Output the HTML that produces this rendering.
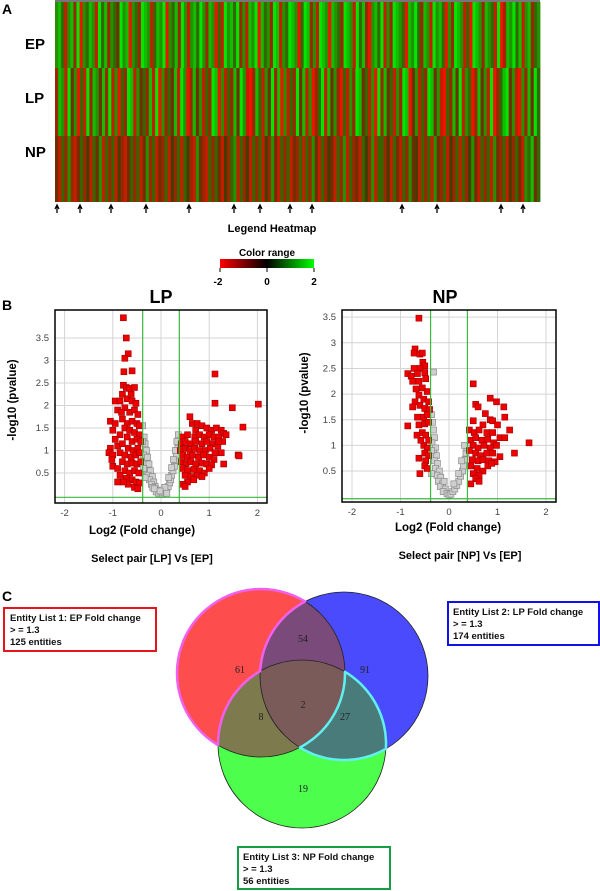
<!DOCTYPE html>
<html><head><meta charset="utf-8">
<style>
html,body{margin:0;padding:0;background:#fff;}
body{width:600px;height:891px;overflow:hidden;position:relative;font-family:"Liberation Sans",sans-serif;}
svg{position:absolute;left:0;top:0;}
</style></head>
<body>
<svg id="fig" width="600" height="891" viewBox="0 0 600 891" xmlns="http://www.w3.org/2000/svg">
  <g id="heat"></g>
  <g id="lpv"></g>
  <g id="npv"></g>
  <g id="venn"></g>
  <g font-family="Liberation Sans, sans-serif" font-weight="bold" fill="#000">
    <text x="2" y="14" font-size="14">A</text>
    <text x="25" y="49" font-size="15">EP</text>
    <text x="25" y="103" font-size="15">LP</text>
    <text x="25" y="157" font-size="15">NP</text>
    <text x="272" y="232" font-size="11" text-anchor="middle">Legend Heatmap</text>
    <text x="267" y="256" font-size="10" text-anchor="middle">Color range</text>
    <text x="218" y="285" font-size="10" text-anchor="middle">-2</text>
    <text x="267" y="285" font-size="10" text-anchor="middle">0</text>
    <text x="314" y="285" font-size="10" text-anchor="middle">2</text>
    <text x="2" y="310" font-size="14">B</text>
    <text x="161" y="303" font-size="18" text-anchor="middle">LP</text>
    <text x="445" y="303" font-size="18" text-anchor="middle">NP</text>
    <text x="142" y="534" font-size="11.5" text-anchor="middle">Log2 (Fold change)</text>
    <text x="448" y="531" font-size="11.5" text-anchor="middle">Log2 (Fold change)</text>
    <text x="152" y="562" font-size="11" text-anchor="middle">Select pair [LP] Vs [EP]</text>
    <text x="460" y="559" font-size="11" text-anchor="middle">Select pair [NP] Vs [EP]</text>
    <text transform="translate(16,400) rotate(-90)" font-size="11.5" text-anchor="middle">-log10 (pvalue)</text>
    <text transform="translate(308,393) rotate(-90)" font-size="11.5" text-anchor="middle">-log10 (pvalue)</text>
    <text x="2" y="601" font-size="14">C</text>
  </g>
  <defs>
    <linearGradient id="cr" x1="0" x2="1" y1="0" y2="0">
      <stop offset="0" stop-color="#ff0000"/><stop offset="0.5" stop-color="#000"/><stop offset="1" stop-color="#00ff00"/>
    </linearGradient>
  </defs>
  <rect x="220" y="259" width="94" height="9" fill="url(#cr)"/>
  <path d="M220 268v4M267 268v4M314 268v4" stroke="#000" stroke-width="1"/>
  <g font-family="Liberation Sans, sans-serif" font-weight="bold" font-size="9.5" fill="#111">
    <rect x="4" y="608" width="152" height="43" fill="#fff" stroke="#e8141c" stroke-width="2"/>
    <text x="10" y="621">Entity List 1: EP Fold change</text>
    <text x="10" y="633">&gt; = 1.3</text>
    <text x="10" y="645">125 entities</text>
    <rect x="448" y="602" width="151" height="43" fill="#fff" stroke="#1212e8" stroke-width="2"/>
    <text x="453" y="615">Entity List 2: LP Fold change</text>
    <text x="453" y="627">&gt; = 1.3</text>
    <text x="453" y="639">174 entities</text>
    <rect x="238" y="847" width="152" height="42" fill="#fff" stroke="#14a040" stroke-width="2"/>
    <text x="243" y="860">Entity List 3: NP Fold change</text>
    <text x="243" y="872">&gt; = 1.3</text>
    <text x="243" y="884">56 entities</text>
  </g>
</svg>
<script>
// ---------- Heatmap data (digits 0..8 => -2..+2) ----------
const heatRowNames = ["EP","LP","NP"];
const heatEP = "67516728065761857265386706528761576806572861675862760518675826176807562871658760587261876076528761857206758162876507685276186750628761508762765180276857167256";
const heatLP = "27618360518276372816052871635271806253718602736152870615273861027516382706152837160258173620516287351608273516287036152873610527381650273618025783610627385";
const heatNP = "31526213524153615251421352513625132514251542163215253142561524152514263152513251526315243152615231542615524153152634152516325142515246315251632514253165735";
const arrowCols = [57,80,111,146,189,234,260,290,312,402,437,501,523]; // arrow x positions

// ---------- Volcano data ----------
const lpRedLeft = [[-0.78,3.95],[-0.72,3.5],[-0.68,3.15],[-0.75,3.05],[-0.77,2.75],[-0.6,2.77],[-0.78,2.45],[-0.72,2.4],[-0.66,2.38],[-0.55,2.4],[-0.8,2.25],[-0.95,2.1],[-0.85,2.1],[-0.7,2.15],[-0.6,2.1],[-0.52,2.05],[-0.9,1.9],[-0.75,1.95],[-0.65,1.85],[-0.55,1.9],[-0.48,1.8],[-1.05,1.65],[-0.8,1.7],[-0.7,1.6],[-0.6,1.65],[-0.5,1.6],[-0.45,1.55],[-1.0,1.45],[-0.75,1.5],[-0.65,1.45],[-0.55,1.4],[-0.45,1.35],[-0.85,1.35],[-0.95,1.25],[-0.7,1.3],[-0.6,1.2],[-0.5,1.25],[-0.42,1.2],[-1.05,1.05],[-0.9,1.1],[-0.8,1.15],[-0.68,1.05],[-0.58,1.0],[-0.48,1.05],[-1.08,0.95],[-1.0,0.9],[-0.85,0.95],[-0.75,0.9],[-0.62,0.85],[-0.52,0.9],[-0.44,0.95],[-1.02,0.8],[-0.8,0.75],[-0.7,0.7],[-0.6,0.72],[-0.5,0.7],[-0.42,0.75],[-1.0,0.65],[-0.9,0.6],[-0.75,0.55],[-0.65,0.5],[-0.55,0.55],[-0.46,0.5],[-0.85,0.45],[-0.72,0.38],[-0.6,0.35],[-0.52,0.3],[-0.45,0.28],[-0.68,0.25],[-0.78,0.3],[-0.55,0.18],[-0.48,0.15],[-0.95,1.6],[-0.82,1.85],[-0.62,2.25],[-0.9,0.3]];
const lpRedRight = [[1.12,2.7],[1.12,2.05],[1.48,1.95],[2.02,2.03],[1.7,1.52],[1.6,0.9],[1.62,0.88],[0.6,1.75],[0.65,1.6],[0.75,1.6],[0.72,1.45],[0.85,1.55],[0.95,1.5],[1.05,1.45],[1.15,1.5],[1.25,1.45],[1.3,1.38],[1.35,1.35],[0.45,1.3],[0.55,1.35],[0.7,1.3],[0.8,1.35],[0.9,1.3],[1.0,1.35],[1.1,1.3],[1.2,1.3],[1.28,1.2],[0.42,1.15],[0.5,1.2],[0.62,1.15],[0.72,1.2],[0.85,1.15],[0.95,1.2],[1.08,1.15],[1.18,1.1],[0.4,1.0],[0.5,1.05],[0.6,1.0],[0.7,1.05],[0.8,1.0],[0.92,1.0],[1.02,1.05],[1.12,0.95],[1.25,0.95],[0.45,0.9],[0.55,0.85],[0.65,0.9],[0.78,0.85],[0.88,0.9],[1.0,0.85],[1.1,0.8],[0.42,0.75],[0.52,0.7],[0.62,0.75],[0.72,0.7],[0.85,0.72],[0.95,0.7],[1.05,0.68],[1.3,0.7],[0.45,0.6],[0.55,0.55],[0.68,0.58],[0.8,0.55],[0.9,0.5],[1.0,0.6],[0.5,0.45],[0.62,0.42],[0.75,0.45],[0.85,0.42],[0.55,0.3],[0.68,0.35],[0.45,0.25],[0.5,0.2],[1.2,1.2]];
const lpGrey = [[-0.38,1.55],[-0.35,1.3],[-0.33,1.15],[-0.3,1.0],[-0.36,0.9],[-0.28,0.85],[-0.32,0.7],[-0.25,0.7],[-0.3,0.55],[-0.22,0.55],[-0.27,0.45],[-0.18,0.42],[-0.24,0.35],[-0.15,0.3],[-0.2,0.25],[-0.12,0.2],[-0.17,0.18],[-0.08,0.12],[-0.1,0.08],[-0.05,0.05],[0,0.02],[0.03,0.03],[0.06,0.06],[0.1,0.1],[0.12,0.15],[0.15,0.2],[0.18,0.28],[0.2,0.35],[0.22,0.45],[0.25,0.55],[0.28,0.65],[0.3,0.78],[0.32,0.9],[0.35,1.05],[0.33,1.2],[0.36,1.35],[0.3,1.0],[0.26,0.8],[0.22,0.62],[0.16,0.4],[-0.14,0.15],[0.08,0.18],[-0.02,0.1],[0.12,0.05],[-0.38,1.2],[-0.36,0.6],[-0.33,0.4]];
const npRedLeft = [[-0.62,3.48],[-0.7,2.88],[-0.72,2.8],[-0.6,2.78],[-0.55,2.8],[-0.54,2.62],[-0.5,2.55],[-0.6,2.5],[-0.72,2.5],[-0.85,2.4],[-0.78,2.35],[-0.65,2.4],[-0.5,2.42],[-0.75,2.25],[-0.62,2.25],[-0.48,2.3],[-0.68,2.1],[-0.55,2.12],[-0.45,2.05],[-0.62,1.98],[-0.52,1.9],[-0.7,1.85],[-0.42,1.85],[-0.75,1.75],[-0.6,1.78],[-0.5,1.72],[-0.4,1.7],[-0.65,1.55],[-0.52,1.55],[-0.45,1.6],[-0.85,1.38],[-0.62,1.4],[-0.5,1.42],[-0.42,1.45],[-0.55,1.25],[-0.48,1.2],[-0.42,1.1],[-0.52,1.0],[-0.45,0.95],[-0.5,0.85],[-0.42,0.8],[-0.62,0.75],[-0.48,0.7],[-0.5,0.6],[-0.45,0.55],[-0.6,0.45],[-0.58,1.1],[-0.66,1.2]];
const npRedRight = [[0.5,2.2],[0.55,1.8],[0.6,1.75],[0.85,1.92],[0.98,1.85],[1.13,1.75],[0.75,1.62],[1.15,1.55],[0.5,1.48],[0.85,1.5],[0.9,1.48],[0.7,1.4],[1.0,1.4],[0.42,1.3],[0.52,1.25],[0.62,1.3],[0.78,1.25],[0.9,1.25],[1.05,1.15],[1.15,1.15],[1.25,1.3],[0.45,1.1],[0.55,1.15],[0.68,1.1],[0.8,1.12],[0.92,1.05],[0.5,1.0],[0.6,0.95],[0.72,1.0],[0.85,0.95],[0.98,1.0],[1.65,1.05],[0.42,0.9],[0.55,0.85],[0.65,0.8],[0.78,0.85],[0.9,0.85],[1.35,0.85],[0.48,0.72],[0.6,0.7],[0.7,0.72],[0.82,0.7],[0.95,0.68],[1.05,0.78],[0.45,0.6],[0.58,0.55],[0.7,0.5],[0.8,0.6],[0.5,0.45],[0.62,0.42],[0.55,0.35],[0.45,0.25],[0.62,0.3],[0.88,0.65]];
const npGrey = [[-0.32,2.43],[-0.36,1.6],[-0.34,1.45],[-0.32,1.3],[-0.3,1.15],[-0.35,1.05],[-0.28,0.95],[-0.32,0.85],[-0.26,0.8],[-0.3,0.7],[-0.24,0.65],[-0.28,0.55],[-0.2,0.5],[-0.25,0.42],[-0.17,0.38],[-0.22,0.3],[-0.13,0.25],[-0.18,0.2],[-0.08,0.15],[-0.12,0.1],[-0.04,0.06],[0,0.03],[0.04,0.05],[0.08,0.1],[0.12,0.15],[0.16,0.22],[0.2,0.3],[0.24,0.4],[0.28,0.5],[0.3,0.6],[0.33,0.72],[0.35,0.85],[0.37,0.95],[0.32,1.0],[0.26,0.7],[0.2,0.45],[0.1,0.25],[-0.1,0.3],[-0.36,0.45],[-0.36,0.9]];
const xTicks = [-2,-1,0,1,2];
const lpYTicks = [0.5,1,1.5,2,2.5,3,3.5];
const npYTicks = [0.5,1,1.5,2,2.5,3,3.5];
const fcCut = [-0.38,0.38];

// ---------- Venn data ----------
const vennCounts = {R:61,RB:54,B:91,RBG:2,RG:8,BG:27,G:19};

const NS="http://www.w3.org/2000/svg";
function mk(tag,attrs,parent){const e=document.createElementNS(NS,tag);for(const k in attrs)e.setAttribute(k,attrs[k]);parent.appendChild(e);return e;}

// Heatmap
(function(){
  const g=document.getElementById('heat');
  const X0=55,X1=540,rowsY=[[2,68],[68,136],[136,202]];
  function col(d){const v=(d-4)/4;
    if(v<0){const t=-v;return `rgb(${Math.round(70+170*t)},${Math.round(55-35*t)},0)`;}
    const t=v;return `rgb(${Math.round(70-70*t)},${Math.round(60+170*t)},0)`;}
  [heatEP,heatLP,heatNP].forEach((s,ri)=>{
    const w=(X1-X0)/s.length;const [y0,y1]=rowsY[ri];
    for(let i=0;i<s.length;i++){
      const r=mk('rect',{x:X0+i*w,y:y0,width:w+0.4,height:y1-y0,fill:col(+s[i])},g);
      
      
    }
  });
  const top=mk('rect',{x:X0,y:0,width:X1-X0,height:2,fill:'#777'},g);
  
  
  arrowCols.forEach(x=>{
    const a=mk('path',{d:`M${x} 213V206M${x-2} 209L${x} 205L${x+2} 209`,stroke:'#000','stroke-width':1.3,fill:'none'},g);
    
    
  });
})();

// Volcano
function volcano(id,box,xr,yr,yTicks,reds,greys,name){
  const g=document.getElementById(id);
  const [bx0,by0,bx1,by1]=box;
  const sx=v=>xr[0]+(v-xr[1])*xr[2];
  const sy=v=>yr[0]-v*yr[1];
  const bg=mk('rect',{x:bx0,y:by0,width:bx1-bx0,height:by1-by0,fill:'#fff'},g);
  
  
  xTicks.forEach(t=>{
    const l=mk('line',{x1:sx(t),x2:sx(t),y1:by0,y2:by1,stroke:'#d4d4d4','stroke-width':1},g);
    
    
    const tx=mk('text',{x:sx(t),y:by1+13,'font-size':9.5,'text-anchor':'middle',fill:'#444','font-family':'Liberation Sans, sans-serif'},g);
    tx.textContent=t;
    
    
  });
  yTicks.forEach(t=>{
    const l=mk('line',{x1:bx0,x2:bx1,y1:sy(t),y2:sy(t),stroke:'#d4d4d4','stroke-width':1},g);
    
    
    const tx=mk('text',{x:bx0-6,y:sy(t)+3,'font-size':9.5,'text-anchor':'end',fill:'#444','font-family':'Liberation Sans, sans-serif'},g);
    tx.textContent=t;
    
    
  });
  const s=6;
  greys.forEach(p=>{
    const r=mk('rect',{x:sx(p[0])-s/2,y:sy(p[1])-s/2,width:s,height:s,fill:'#cfcfcf',stroke:'#8a8a8a','stroke-width':0.7},g);
    
    
  });
  reds.forEach(p=>{
    const r=mk('rect',{x:sx(p[0])-s/2,y:sy(p[1])-s/2,width:s,height:s,fill:'#ee0000',stroke:'#a00000','stroke-width':0.6},g);
    
    
  });
  fcCut.forEach(c=>{
    const l=mk('line',{x1:sx(c),x2:sx(c),y1:by0,y2:by1,stroke:'#3cb83c','stroke-width':1.2},g);
    
    
  });
  const h=mk('line',{x1:bx0,x2:bx1,y1:sy(-0.04),y2:sy(-0.04),stroke:'#3cb83c','stroke-width':1.2},g);
  
  
  const f=mk('rect',{x:bx0,y:by0,width:bx1-bx0,height:by1-by0,fill:'none',stroke:'#000','stroke-width':1.5},g);
  
  
}
volcano('lpv',[55,310,267,503],[161,0,48.2],[495.5,45],lpYTicks,lpRedLeft.concat(lpRedRight),lpGrey,'lp');
volcano('npv',[342,310,556,502],[449,0,48.5],[496.7,51.3],npYTicks,npRedLeft.concat(npRedRight),npGrey,'np');

// Venn
(function(){
  const g=document.getElementById('venn');
  const R={x:261,y:673,r:84},B={x:344,y:676,r:84},G={x:302,y:744,r:84};
  const defs=mk('defs',{},g);
  [['cR',R],['cB',B],['cG',G]].forEach(([id,c])=>{const cp=mk('clipPath',{id},defs);mk('circle',{cx:c.x,cy:c.y,r:c.r},cp);});
  function circ(c,fill,nm,parent){const e=mk('circle',{cx:c.x,cy:c.y,r:c.r,fill},parent||g);return e;}
  circ(R,'#fe4d4d','venn-circle-ep');
  circ(B,'#4b4bfe','venn-circle-lp');
  circ(G,'#4dfe4d','venn-circle-np');
  const gB=mk('g',{'clip-path':'url(#cB)'},g);
  circ(G,'#4a7b7b','venn-overlap-lp-np',gB);
  const gR=mk('g',{'clip-path':'url(#cR)'},g);
  circ(B,'#7a4a7a','venn-overlap-ep-lp',gR);
  circ(G,'#7d7a4d','venn-overlap-ep-np',gR);
  const gRB=mk('g',{'clip-path':'url(#cB)'},gR);
  circ(G,'#7b5a5a','venn-overlap-all',gRB);
  function inter(a,b){const dx=b.x-a.x,dy=b.y-a.y,d=Math.hypot(dx,dy);const l=(a.r*a.r-b.r*b.r+d*d)/(2*d);const h=Math.sqrt(a.r*a.r-l*l);
    const mx=a.x+dx*l/d,my=a.y+dy*l/d;return [{x:mx+h*dy/d,y:my-h*dx/d},{x:mx-h*dy/d,y:my+h*dx/d}];}
  const dist=(p,c)=>Math.hypot(p.x-c.x,p.y-c.y);
  const inside=(p,c)=>dist(p,c)<c.r-0.5;
  function pick(a,b,other,wantInside){return inter(a,b).filter(p=>inside(p,other)===wantInside)[0];}
  // sample arc of circle C from P to Q, choosing direction whose midpoint passes test
  function arc(C,P,Q,test){
    const a0=Math.atan2(P.y-C.y,P.x-C.x);let a1=Math.atan2(Q.y-C.y,Q.x-C.x);
    let d=a1-a0;while(d<=0)d+=2*Math.PI; // ccw-positive direction
    const cands=[d,d-2*Math.PI];
    for(const dd of cands){const m=a0+dd/2;const mp={x:C.x+C.r*Math.cos(m),y:C.y+C.r*Math.sin(m)};
      if(test(mp)){const pts=[];const n=40;for(let i=0;i<=n;i++){const a=a0+dd*i/n;pts.push([C.x+C.r*Math.cos(a),C.y+C.r*Math.sin(a)]);}return pts;}}
    return [[P.x,P.y],[Q.x,Q.y]];
  }
  const pRBo=pick(R,B,G,false), pRGo=pick(R,G,B,false), pBGi=pick(B,G,R,true);
  const pRBi=pick(R,B,G,true), pRGi=pick(R,G,B,true), pBGo=pick(B,G,R,false);
  const ptsR=[].concat(
    arc(R,pRGo,pRBo,p=>!inside(p,B)&&!inside(p,G)),
    arc(B,pRBo,pBGi,p=>inside(p,R)),
    arc(G,pBGi,pRGo,p=>inside(p,R)));
  const ptsBG=[].concat(
    arc(G,pRGi,pBGo,p=>inside(p,B)&&!inside(p,R)),
    arc(B,pBGo,pRBi,p=>inside(p,G)),
    arc(R,pRBi,pRGi,p=>inside(p,B)&&inside(p,G)));
  const toD=pts=>'M'+pts.map(p=>p[0].toFixed(1)+' '+p[1].toFixed(1)).join('L')+'Z';
  [R,B,G].forEach(c=>{const e=mk('circle',{cx:c.x,cy:c.y,r:c.r,fill:'none',stroke:'#222','stroke-width':0.8},g);
    
    });
  const o1=mk('path',{d:toD(ptsR),fill:'none',stroke:'#f060f0','stroke-width':2.5,'stroke-linejoin':'round'},g);
  
  
  const o2=mk('path',{d:toD(ptsBG),fill:'none',stroke:'#60f0f0','stroke-width':2.5,'stroke-linejoin':'round'},g);
  
  
  const labelPos={R:[240,669],RB:[303,638],B:[365,669],RBG:[303,704],RG:[261,716],BG:[345,716],G:[303,788]};
  Object.keys(vennCounts).forEach(k=>{
    const t=mk('text',{x:labelPos[k][0],y:labelPos[k][1]+4,'font-size':10,'text-anchor':'middle',fill:'#222','font-family':'Liberation Serif, serif'},g);
    t.textContent=vennCounts[k];
    
    
  });
})();
</script>
</body></html>
